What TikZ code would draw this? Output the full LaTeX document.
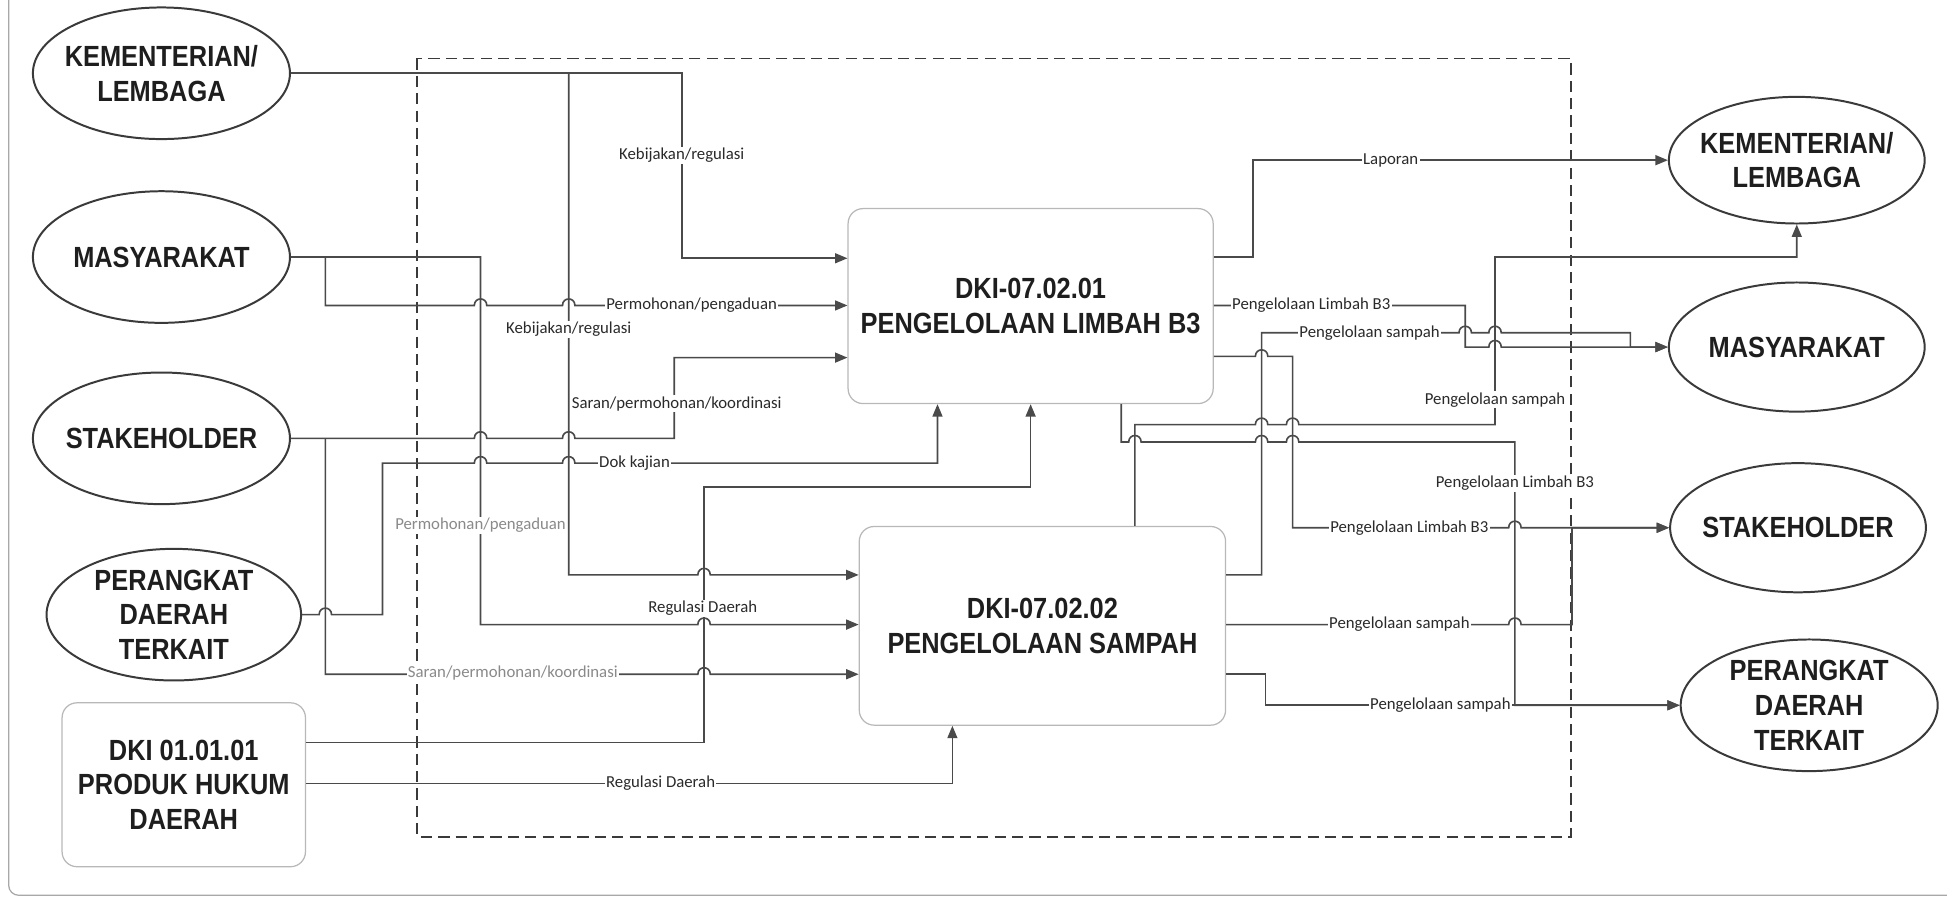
\documentclass[tikz,border=0pt]{standalone}
\usepackage{fontspec}
\setmainfont{Liberation Sans}
\newfontfamily\hf[FakeStretch=0.87]{Liberation Sans Bold}
\newfontfamily\lf{Carlito}
\usetikzlibrary{shapes.geometric,arrows.meta}
\definecolor{ln}{HTML}{4A4A4A}
\definecolor{ellc}{HTML}{3A3A3A}
\definecolor{boxc}{HTML}{B8B8B8}
\definecolor{txt}{HTML}{1E1E1E}
\definecolor{labc}{HTML}{2A2A2A}
\definecolor{glabc}{HTML}{8A8A8A}
\definecolor{framec}{HTML}{A8A8A8}
\newcommand\hopx[2]{-- ({#1-5},#2) .. controls ({#1-5},{#2-7}) and ({#1+5},{#2-7}) .. ({#1+5},#2)}
\tikzset{
 ell/.style={ellipse, draw=ellc, line width=1.6pt, minimum width=207pt, minimum height=106pt,
   inner xsep=-30pt, inner ysep=-16pt, align=center, text=txt,
   font=\hf\fontsize{23.5}{28}\selectfont},
 proc/.style={rectangle, rounded corners=12pt, draw=boxc, line width=1pt, inner sep=0pt,
   align=center, text=txt, font=\hf\fontsize{23.5}{28}\selectfont},
 conn/.style={draw=ln, line width=1.3pt},
 arr/.style={conn, -{Triangle[length=10pt,width=8pt]}},
 lab/.style={font=\lf\fontsize{13.5}{15}\selectfont, fill=white, inner sep=1pt, text=labc},
 glab/.style={lab, text=glabc},
 frame/.style={draw=ellc, dashed, dash pattern=on 9pt off 5pt, line width=1.2pt}
}
\begin{document}
\begin{tikzpicture}[x=1pt,y=-1pt]
\useasboundingbox (0,0) rectangle (1568,725);
% outer frame
\draw[framec, line width=1pt, rounded corners=8pt] (7,0) -- (7,721) -- (1568,721);
% dashed boundary
\draw[frame] (336,47) rectangle (1265,674);
% nodes
\node[ell] (kl) at (130,59) {KEMENTERIAN/\\LEMBAGA};
\node[ell] (ml) at (130,207) {MASYARAKAT};
\node[ell] (sl) at (130,353) {STAKEHOLDER};
\node[ell, minimum width=205pt] (pl) at (140,495) {PERANGKAT\\DAERAH\\TERKAIT};
\node[proc, minimum width=196pt, minimum height=132pt] (d1) at (148,632) {DKI 01.01.01\\PRODUK HUKUM\\DAERAH};
\node[proc, minimum width=294pt, minimum height=157pt] (b1) at (830,246.5) {DKI-07.02.01\\PENGELOLAAN LIMBAH B3};
\node[proc, minimum width=295pt, minimum height=160pt] (b2) at (839.5,504) {DKI-07.02.02\\PENGELOLAAN SAMPAH};
\node[ell, minimum width=206pt, minimum height=102pt] (kr) at (1447,129) {KEMENTERIAN/\\LEMBAGA};
\node[ell, minimum width=206pt, minimum height=104pt] (mr) at (1447,279.5) {MASYARAKAT};
\node[ell, minimum width=206pt, minimum height=104pt] (sr) at (1448,425) {STAKEHOLDER};
\node[ell] (pr) at (1457,568) {PERANGKAT\\DAERAH\\TERKAIT};
% junctions
\coordinate (jk) at (458,59);
\coordinate (jm) at (262,207);
\coordinate (js) at (262,353);
% ---- left inputs
\draw[arr] (kl.east) -- (549,59) -- (549,208) -- (b1.west |- 0,208);
\draw[arr] (jk) -- (458,463) \hopx{567}{463} -- (b2.west |- 0,463);
\draw[arr] (ml.east) -- (jm) -- (262,246) \hopx{387}{246} \hopx{458}{246} -- (b1.west |- 0,246);
\draw[arr] (ml.east) -- (387,207) -- (387,503) \hopx{567}{503} -- (b2.west |- 0,503);
\draw[arr] (sl.east) \hopx{387}{353} \hopx{458}{353} -- (543,353) -- (543,288) -- (b1.west |- 0,288);
\draw[arr] (js) -- (262,543) \hopx{567}{543} -- (b2.west |- 0,543);
\draw[arr] (pl.east) \hopx{262}{495} -- (308,495) -- (308,373) \hopx{387}{373} \hopx{458}{373} -- (755,373) -- (755,0 |- b1.south);
\draw[arr] (d1.east |- 0,598) -- (567,598) -- (567,392) -- (830,392) -- (b1.south);
\draw[arr] (d1.east |- 0,631) -- (767,631) -- (767,0 |- b2.south);
% ---- right outputs
\draw[arr] (b1.east |- 0,207) -- (1009,207) -- (1009,129) -- (kr.west);
\draw[arr] (b1.east |- 0,246) -- (1180,246) -- (1180,279.5) \hopx{1204}{279.5} -- (mr.west);
\draw[arr] (b2.east |- 0,463) -- (1016,463) -- (1016,268) \hopx{1180}{268} \hopx{1204}{268} -- (1313,268) -- (1313,279.5) -- (mr.west);
\draw[arr] (b1.east |- 0,287) \hopx{1016}{287} -- (1041,287) -- (1041,425) \hopx{1220}{425} -- (sr.west);
\draw[arr] (903,0 |- b1.south) -- (903,356) \hopx{914}{356} \hopx{1016}{356} \hopx{1041}{356} -- (1220,356) -- (1220,568) -- (pr.west);
\draw[arr] (914,0 |- b2.north) -- (914,342) \hopx{1016}{342} \hopx{1041}{342} -- (1204,342) -- (1204,207) -- (1447,207) -- (kr.south);
\draw[arr] (b2.east |- 0,503) \hopx{1220}{503} -- (1266,503) -- (1266,425) -- (sr.west);
\draw[arr] (b2.east |- 0,543) -- (1019,543) -- (1019,568) -- (pr.west);
% ---- labels
\node[lab] (t1) at (549,125) {Kebijakan/regulasi};
\node[lab] (t2) at (458,265) {Kebijakan/regulasi};
\node[lab] (t3) at (557,246) {Permohonan/pengaduan};
\node[glab] (t4) at (387,423) {Permohonan/pengaduan};
\node[lab] (t5) at (545,325) {Saran/permohonan/koordinasi};
\node[glab] (t6) at (413,542) {Saran/permohonan/koordinasi};
\node[lab] (t7) at (511,373) {Dok kajian};
\node[lab] (t8) at (566,490) {Regulasi Daerah};
\node[lab] (t9) at (532,631) {Regulasi Daerah};
\node[lab] (t10) at (1120,129) {Laporan};
\node[lab] (t11) at (1056,246) {Pengelolaan Limbah B3};
\node[lab] (t12) at (1103,268) {Pengelolaan sampah};
\node[lab] (t13) at (1204,322) {Pengelolaan sampah};
\node[lab] (t14) at (1220,389) {Pengelolaan Limbah B3};
\node[lab] (t15) at (1135,425) {Pengelolaan Limbah B3};
\node[lab] (t16) at (1127,503) {Pengelolaan sampah};
\node[lab] (t17) at (1160,568) {Pengelolaan sampah};
\end{tikzpicture}
\end{document}
